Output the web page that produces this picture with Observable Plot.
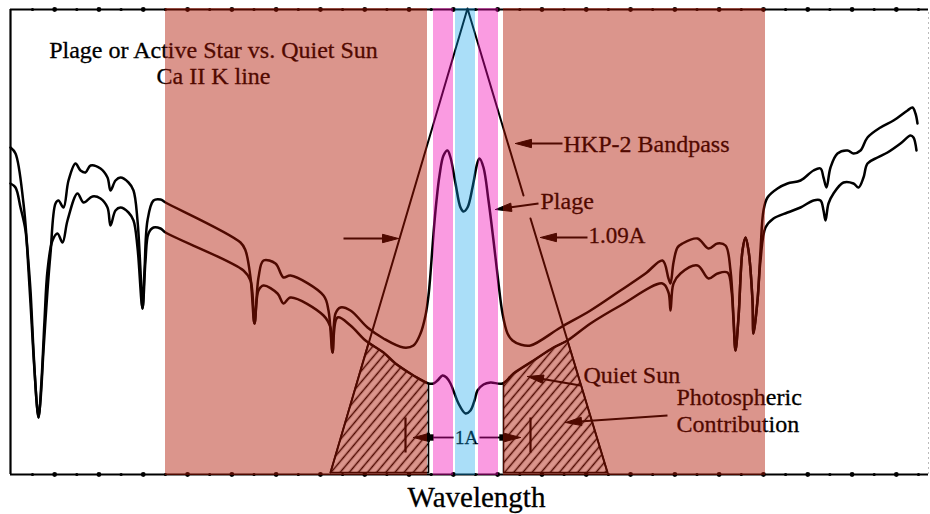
<!DOCTYPE html>
<html><head><meta charset="utf-8">
<script src="https://cdn.jsdelivr.net/npm/d3@7"></script>
<script src="https://cdn.jsdelivr.net/npm/@observablehq/plot@0.6"></script>
<style>html,body{margin:0;padding:0;background:#fff;} #chart svg{display:block;}</style>
</head><body><div id="chart"></div>
<script>
// ---------- DATA (x = wavelength index, y = relative intensity) ----------
// Plage / active star spectrum (upper curve)
const activeX = [0,5,13,17,20,23,26,28,30,33,37,40,45,48,53,58,65,70,75,80,90,97,100,105,110,118,123,127,130,132,134,137,143,150,155,
  230,235,240,244,248,253,265,273,280,313,318,322,325,330,340,357,373,393,403,410,415,418,420,423,426,429,433,437,440,445,450,453,457,462,467,469,473,478,483,488,492,497,502,510,520,
  550,580,610,635,652,658,660,663,667,672,687,698,707,715,720,723,725,728,732,735,738,742,743,747,750,753,757,767,777,790,803,810,813,816,820,827,837,843,850,857,870,883,897,902,905,907];
const activeY = [327,321,271,224,184,124,74,57,74,124,184,221,271,274,267,294,311,304,302,309,306,297,284,294,297,292,284,254,204,166,204,254,274,275,272,
  232,224,197,151,197,214,211,197,199,179,164,122,161,167,164,147,136,127,129,141,159,179,201,241,274,299,319,324,317,291,267,263,267,287,312,316,307,274,234,191,161,141,134,130,129,
  147,164,184,201,214,196,191,212,227,231,236,226,231,229,204,157,124,157,224,237,224,174,141,174,224,264,277,286,291,294,304,306,297,287,307,321,324,321,324,337,347,354,364,367,361,351];
// Quiet Sun spectrum (lower curve)
const quietX = [0,5,10,15,18,21,24,28,31,34,37,42,47,52,57,67,73,82,90,97,100,105,110,118,123,127,132,135,138,143,150,155,
  233,240,244,248,253,267,273,280,313,320,322,327,340,355,373,385,403,418,423,427,432,436,440,444,448,455,460,464,467,473,480,492,
  503,523,543,557,580,610,652,658,660,663,670,687,698,707,717,721,723,725,728,732,735,738,742,743,747,750,755,763,777,790,803,810,813,815,818,823,833,843,848,853,857,867,877,890,900,903,906];
const quietY = [291,287,267,244,204,154,104,57,94,154,204,234,241,232,254,281,272,278,276,267,249,264,267,262,254,227,166,214,241,247,246,242,
  204,194,151,184,189,181,171,177,159,147,122,157,149,134,122,111,99,91,91,94,99,97,91,81,71,61,64,74,84,90,92,91,
  101,114,127,134,151,169,191,182,164,191,201,209,196,201,202,184,154,124,157,224,237,224,174,141,174,214,247,256,262,267,274,274,264,254,271,281,292,291,287,297,311,317,322,331,339,337,324];
// HKP-2 bandpass triangle (right flank broken by the "Plage" label)
const bandpassSeg = ["a","a","a","b","b"];
const bandpassX = [320,457,513,520,597];
const bandpassY = [2,466,279,256,2];
// Photospheric contribution (hatched) polygons
const photoSide = ["left","left","left","left","left","left","left","left","right","right","right","right","right","right","right","right"];
const photoX = [320,358,373,385,403,418,418,320, 493,493,503,523,543,557,597,493];
const photoY = [2,132,122,111,99,91,2,2, 2,91,101,114,127,134,2,2];
// Passbands (wavelength intervals)
const bandKind = ["wing","K2","K3","K2","wing"];
const bandX1 = [155,423,445,468,493];
const bandX2 = [417,443,465,488,755];
// Annotation arrows: start -> tip
const arrowX1 = [333,577,552,528,570,657,420,492];
const arrowY1 = [236,237,331,271,89,59,37,37];
const arrowX2 = [388,530,505,485,517,555,403,510];
const arrowY2 = [236,237,331,265,98,52,37,37];
// 1 A scale marker
const scaleEndX = [420,492];
const scaleY = 37;
const scaleLineX1 = [422,469], scaleLineX2 = [443,490];
const scaleBarX = [395,520], scaleBarY1 = 22, scaleBarY2 = 57;
// Labels
const titleText = ["Plage or Active Star vs. Quiet Sun","Ca II K line"];
const titleX = [203,203], titleY = [424,398.5];
const noteText = ["HKP-2 Bandpass","Plage","Quiet Sun","Photospheric","Contribution"];
const noteX = [553,530,573,666,666], noteY = [330,273,99,77,50];
const fwhmText = "1.09A", fwhmX = 578, fwhmY = 238.5;
const scaleText = "1A", scaleTextX = 456;
const axisLabel = "Wavelength", axisLabelX = 466, axisLabelY = -23;
// Tick marks along the frame
const tickX = d3.range(41).map(k => 22 + 22.15 * k);
const frameTop = 465, frameRight = 918;

// ---------- TABLES ----------
const zip = (xs, ys, extra) => xs.map((x, i) => Object.assign({x, y: ys[i]}, extra ? extra(i) : {}));
const active = zip(activeX, activeY);
const quiet = zip(quietX, quietY);
const bandpass = zip(bandpassX, bandpassY, i => ({seg: bandpassSeg[i]}));
const photo = zip(photoX, photoY, i => ({side: photoSide[i]}));
const bands = bandKind.map((k, i) => ({kind: k, x1: bandX1[i], x2: bandX2[i]}));
const arrows = arrowX1.map((x1, i) => ({x1, y1: arrowY1[i], x2: arrowX2[i], y2: arrowY2[i]}));
const HEAD_LEN = 16, HEAD_W = 4.2;
const shafts = arrows.map(a => {
  const dx = a.x2 - a.x1, dy = a.y2 - a.y1, L = Math.hypot(dx, dy);
  return {x1: a.x1, y1: a.y1, x2: a.x2 - dx / L * (HEAD_LEN - 2), y2: a.y2 - dy / L * (HEAD_LEN - 2)};
});
const heads = arrows.flatMap((a, id) => {
  const dx = a.x2 - a.x1, dy = a.y2 - a.y1, L = Math.hypot(dx, dy), ux = dx / L, uy = dy / L;
  const bx = a.x2 - ux * HEAD_LEN, by = a.y2 - uy * HEAD_LEN;
  return [[a.x2, a.y2], [bx - uy * HEAD_W, by + ux * HEAD_W], [bx + uy * HEAD_W, by - ux * HEAD_W], [a.x2, a.y2]]
    .map(([x, y]) => ({id, x, y}));
});
const ticks = tickX.flatMap((x, k) => [{x, y: 0, big: k % 2 === 1}, {x, y: frameTop, big: k % 2 === 1}]);
const bandStyle = {wing: {fill: "#AF1400", op: 0.45}, K2: {fill: "#F205B4", op: 0.4}, K3: {fill: "#0BA0EA", op: 0.35}};

const serif = "Liberation Serif, Times New Roman, serif";
const chart = Plot.plot({
  width: 930, height: 514,
  marginLeft: 10, marginRight: 2, marginTop: 9, marginBottom: 40,
  x: {domain: [0, frameRight], axis: null},
  y: {domain: [0, frameTop], axis: null},
  style: {background: "#fff"},
  marks: [
    Plot.line(photo, {x: "x", y: "y", z: "side", fill: "url(#hatch)", stroke: "#000", strokeWidth: 1.6, curve: "linear"}),
    Plot.ruleY([0, frameTop], {x1: 0, x2: frameRight, stroke: "#000", strokeWidth: 2.2}),
    Plot.ruleX([0], {y1: 0, y2: frameTop, stroke: "#000", strokeWidth: 2.2}),
    Plot.ruleX([frameRight], {y1: 0, y2: frameTop, stroke: "#bbb", strokeWidth: 1, strokeDasharray: "2,3"}),
    Plot.dot(ticks.filter(d => d.big), {x: "x", y: "y", r: 2.4, fill: "#000", stroke: null}),
    Plot.dot(ticks.filter(d => !d.big), {x: "x", y: "y", r: 1.6, fill: "#000", stroke: null}),
    Plot.line(quiet, {x: "x", y: "y", stroke: "#000", strokeWidth: 2.5, curve: "catmull-rom"}),
    Plot.line(active, {x: "x", y: "y", stroke: "#000", strokeWidth: 2.5, curve: "catmull-rom"}),
    Plot.line(bandpass, {x: "x", y: "y", z: "seg", stroke: "#000", strokeWidth: 2, curve: "linear"}),
    Plot.link(shafts, {x1: "x1", y1: "y1", x2: "x2", y2: "y2", stroke: "#000", strokeWidth: 2}),
    Plot.line(heads, {x: "x", y: "y", z: "id", fill: "#000", stroke: "#000", strokeWidth: 1, curve: "linear"}),
    Plot.link(scaleLineX1.map((x1, i) => ({x1, x2: scaleLineX2[i]})), {x1: "x1", x2: "x2", y1: scaleY, y2: scaleY, stroke: "#000", strokeWidth: 1.8}),
    Plot.dot(scaleEndX, {x: d => d, y: scaleY, symbol: "square", r: 3.6, fill: "#000", stroke: null}),
    Plot.link(scaleBarX, {x1: d => d, x2: d => d, y1: scaleBarY1, y2: scaleBarY2, stroke: "#000", strokeWidth: 2.2}),
    Plot.text(titleText, {x: (d, i) => titleX[i], y: (d, i) => titleY[i], text: d => d, fontFamily: serif, fontSize: 24, fill: "#000", stroke: "#000", strokeWidth: 0.3, textAnchor: "middle"}),
    Plot.text(noteText, {x: (d, i) => noteX[i], y: (d, i) => noteY[i], text: d => d, fontFamily: serif, fontSize: 24, fill: "#000", stroke: "#000", strokeWidth: 0.3, textAnchor: "start"}),
    Plot.text([fwhmText], {x: fwhmX, y: fwhmY, text: d => d, fontFamily: serif, fontSize: 23, fill: "#000", stroke: "#000", strokeWidth: 0.3, textAnchor: "start"}),
    Plot.text([scaleText], {x: scaleTextX, y: scaleY, text: d => d, fontFamily: serif, fontSize: 19, fill: "#000", stroke: "#000", strokeWidth: 0.3, textAnchor: "middle"}),
    ...Object.entries(bandStyle).map(([k, s]) =>
      Plot.rect(bands.filter(b => b.kind === k), {x1: "x1", x2: "x2", y1: -1, y2: frameTop + 1, fill: s.fill, fillOpacity: s.op, stroke: null})),
    Plot.text([axisLabel], {x: axisLabelX, y: axisLabelY, text: d => d, fontFamily: serif, fontSize: 29, fill: "#000", stroke: "#000", strokeWidth: 0.3, textAnchor: "middle"})
  ]
});
const defs = d3.select(chart).insert("defs", ":first-child");
const pat = defs.append("pattern").attr("id", "hatch").attr("patternUnits", "userSpaceOnUse")
  .attr("width", 7).attr("height", 7).attr("patternTransform", "rotate(40)");
pat.append("line").attr("x1", 3.5).attr("y1", -1).attr("x2", 3.5).attr("y2", 8).attr("stroke", "#000").attr("stroke-width", 1.5);
document.getElementById("chart").appendChild(chart);
</script>
</body></html>
